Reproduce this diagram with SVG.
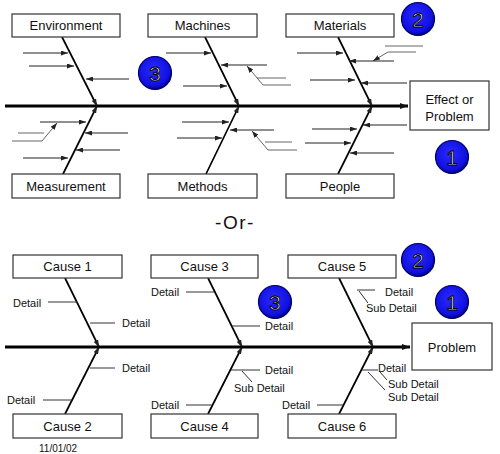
<svg xmlns="http://www.w3.org/2000/svg" width="500" height="454" viewBox="0 0 500 454">
<defs>
<marker id="ah" markerUnits="userSpaceOnUse" markerWidth="8" markerHeight="6" refX="8" refY="3" orient="auto"><path d="M0,0 L8,3 L0,6 z" fill="#111"/></marker>
<marker id="ahs" markerUnits="userSpaceOnUse" markerWidth="7" markerHeight="5" refX="7" refY="2.5" orient="auto"><path d="M0,0 L7,2.5 L0,5 z" fill="#222"/></marker>
<radialGradient id="bg" cx="45%" cy="40%" r="60%"><stop offset="0" stop-color="#2a2aff"/><stop offset="0.8" stop-color="#1010e0"/><stop offset="1" stop-color="#000090"/></radialGradient>
</defs>
<style>
.box{fill:#fff;stroke:#333;stroke-width:1.2}
.lbl{font-family:"Liberation Sans",Arial,sans-serif;font-size:13px;fill:#111;text-anchor:middle}
.det{font-family:"Liberation Sans",Arial,sans-serif;font-size:11px;fill:#111}
.spine{stroke:#000;stroke-width:3;fill:none}
.bone{stroke:#000;stroke-width:1.7;fill:none}
.sa{stroke:#222;stroke-width:1.1;fill:none}
.sl{stroke:#666;stroke-width:1;fill:none}
.dl{stroke:#333;stroke-width:1;fill:none}
.circ{fill:url(#bg);stroke:#000060;stroke-width:1.2}
.num{font-family:"Liberation Sans",Arial,sans-serif;font-size:21px;fill:#e8e8ff;stroke:#000;stroke-width:0.9;text-anchor:middle}
</style>
<rect width="500" height="454" fill="#fff"/>

<g id="connectors">
<!-- top diagram -->
<line class="spine" x1="5" y1="106" x2="408" y2="106" marker-end="url(#ah)"/>
<line class="bone" x1="62" y1="37" x2="97" y2="106" marker-end="url(#ahs)"/>
<line class="bone" x1="205" y1="37" x2="239" y2="106" marker-end="url(#ahs)"/>
<line class="bone" x1="338" y1="37" x2="372" y2="106" marker-end="url(#ahs)"/>
<line class="bone" x1="63" y1="174" x2="97" y2="106" marker-end="url(#ahs)"/>
<line class="bone" x1="206" y1="174" x2="239" y2="106" marker-end="url(#ahs)"/>
<line class="bone" x1="338" y1="174" x2="372" y2="106" marker-end="url(#ahs)"/>
<!-- environment -->
<line class="sa" x1="23" y1="53" x2="68" y2="53" marker-end="url(#ahs)"/>
<line class="sa" x1="29" y1="66" x2="74" y2="66" marker-end="url(#ahs)"/>
<line class="sa" x1="129" y1="79" x2="86" y2="79" marker-end="url(#ahs)"/>
<!-- machines -->
<line class="sa" x1="166" y1="53" x2="211" y2="53" marker-end="url(#ahs)"/>
<line class="sa" x1="267" y1="65" x2="221" y2="65" marker-end="url(#ahs)"/>
<line class="sl" x1="263" y1="85" x2="247" y2="66" marker-end="url(#ahs)"/>
<line class="sl" x1="257" y1="78" x2="286" y2="78"/>
<line class="sl" x1="263" y1="85" x2="291" y2="85"/>
<line class="sa" x1="183" y1="86" x2="227" y2="86" marker-end="url(#ahs)"/>
<!-- materials -->
<line class="sa" x1="297" y1="53" x2="343" y2="53" marker-end="url(#ahs)"/>
<line class="sa" x1="394" y1="61" x2="349" y2="61" marker-end="url(#ahs)"/>
<line class="sl" x1="388" y1="52" x2="373" y2="61" marker-end="url(#ahs)"/>
<line class="sl" x1="385" y1="46" x2="423" y2="46"/>
<line class="sl" x1="388" y1="52" x2="416" y2="52"/>
<line class="sa" x1="310" y1="80" x2="355" y2="80" marker-end="url(#ahs)"/>
<line class="sa" x1="407" y1="83" x2="361" y2="83" marker-end="url(#ahs)"/>
<!-- measurement -->
<line class="sa" x1="40" y1="122" x2="86" y2="122" marker-end="url(#ahs)"/>
<line class="sl" x1="42" y1="141" x2="57" y2="123" marker-end="url(#ahs)"/>
<line class="sl" x1="18" y1="133" x2="44" y2="133"/>
<line class="sl" x1="12" y1="141" x2="42" y2="141"/>
<line class="sa" x1="128" y1="133" x2="85" y2="133" marker-end="url(#ahs)"/>
<line class="sa" x1="120" y1="150" x2="76" y2="150" marker-end="url(#ahs)"/>
<line class="sa" x1="23" y1="158" x2="68" y2="158" marker-end="url(#ahs)"/>
<!-- methods -->
<line class="sa" x1="182" y1="122" x2="229" y2="122" marker-end="url(#ahs)"/>
<line class="sa" x1="177" y1="138" x2="222" y2="138" marker-end="url(#ahs)"/>
<line class="sa" x1="274" y1="130" x2="230" y2="130" marker-end="url(#ahs)"/>
<line class="sl" x1="268" y1="150" x2="252" y2="131" marker-end="url(#ahs)"/>
<line class="sl" x1="265" y1="142" x2="292" y2="142"/>
<line class="sl" x1="268" y1="150" x2="297" y2="150"/>
<!-- people -->
<line class="sa" x1="407" y1="125" x2="363" y2="125" marker-end="url(#ahs)"/>
<line class="sa" x1="312" y1="129" x2="357" y2="129" marker-end="url(#ahs)"/>
<line class="sa" x1="305" y1="143" x2="351" y2="143" marker-end="url(#ahs)"/>
<line class="sa" x1="394" y1="153" x2="350" y2="153" marker-end="url(#ahs)"/>

<!-- bottom diagram -->
<line class="spine" x1="5" y1="347" x2="410" y2="347" marker-end="url(#ah)"/>
<line class="bone" x1="65" y1="278" x2="99" y2="347" marker-end="url(#ahs)"/>
<line class="bone" x1="208" y1="278" x2="242" y2="347" marker-end="url(#ahs)"/>
<line class="bone" x1="339" y1="278" x2="373" y2="347" marker-end="url(#ahs)"/>
<line class="bone" x1="65" y1="414" x2="99" y2="347" marker-end="url(#ahs)"/>
<line class="bone" x1="208" y1="414" x2="242" y2="347" marker-end="url(#ahs)"/>
<line class="bone" x1="339" y1="414" x2="373" y2="347" marker-end="url(#ahs)"/>
<line class="dl" x1="48" y1="302" x2="77" y2="302"/>
<line class="dl" x1="90" y1="323" x2="115" y2="323"/>
<line class="dl" x1="186" y1="292" x2="214" y2="292"/>
<line class="dl" x1="232" y1="326" x2="260" y2="326"/>
<line class="dl" x1="357" y1="290" x2="375" y2="290"/>
<line class="dl" x1="359" y1="291" x2="368" y2="303"/>
<line class="dl" x1="90" y1="368" x2="115" y2="368"/>
<line class="dl" x1="43" y1="400" x2="72" y2="400"/>
<line class="dl" x1="186" y1="405" x2="212" y2="405"/>
<line class="dl" x1="231" y1="370" x2="260" y2="370"/>
<line class="dl" x1="242" y1="371" x2="252" y2="382"/>
<line class="dl" x1="317" y1="405" x2="343" y2="405"/>
<line class="dl" x1="362" y1="370" x2="378" y2="370"/>
<line class="dl" x1="380" y1="372" x2="387" y2="380"/>
<line class="dl" x1="368" y1="372" x2="385" y2="390"/>
</g>

<g id="environment"><rect class="box" x="12" y="14" width="108" height="23"/><text class="lbl" x="66" y="30">Environment</text></g>
<g id="machines"><rect class="box" x="148" y="14" width="109" height="23"/><text class="lbl" x="202.5" y="30">Machines</text></g>
<g id="materials"><rect class="box" x="286" y="14" width="108" height="23"/><text class="lbl" x="340" y="30">Materials</text></g>
<g id="measurement"><rect class="box" x="12" y="174" width="108" height="24"/><text class="lbl" x="66" y="191">Measurement</text></g>
<g id="methods"><rect class="box" x="148" y="174" width="109" height="24"/><text class="lbl" x="202.5" y="191">Methods</text></g>
<g id="people"><rect class="box" x="286" y="174" width="108" height="24"/><text class="lbl" x="340" y="191">People</text></g>
<g id="effect"><rect class="box" x="410" y="81" width="79" height="49"/><text class="lbl" x="449.5" y="104">Effect or</text><text class="lbl" x="449.5" y="121">Problem</text></g>

<g id="badge-top-2"><circle class="circ" cx="418" cy="19" r="16.5"/><text class="num" x="418" y="26.5">2</text></g>
<g id="badge-top-3"><circle class="circ" cx="155" cy="73" r="16.5"/><text class="num" x="155" y="80.5">3</text></g>
<g id="badge-top-1"><circle class="circ" cx="452" cy="157" r="16.5"/><text class="num" x="452" y="164.5">1</text></g>

<text id="or" x="235" y="229" font-family="'Liberation Sans',Arial,sans-serif" font-size="19" letter-spacing="1.5" text-anchor="middle" fill="#111">-Or-</text>

<g id="cause1"><rect class="box" x="13" y="255" width="109" height="23"/><text class="lbl" x="67.5" y="271">Cause 1</text></g>
<g id="cause3"><rect class="box" x="151" y="255" width="107" height="23"/><text class="lbl" x="204.5" y="271">Cause 3</text></g>
<g id="cause5"><rect class="box" x="288" y="255" width="108" height="23"/><text class="lbl" x="342" y="271">Cause 5</text></g>
<g id="cause2"><rect class="box" x="13" y="414" width="109" height="24"/><text class="lbl" x="67.5" y="431">Cause 2</text></g>
<g id="cause4"><rect class="box" x="151" y="414" width="107" height="24"/><text class="lbl" x="204.5" y="431">Cause 4</text></g>
<g id="cause6"><rect class="box" x="288" y="414" width="108" height="24"/><text class="lbl" x="342" y="431">Cause 6</text></g>
<g id="problem"><rect class="box" x="412" y="323" width="80" height="47"/><text class="lbl" x="452" y="352">Problem</text></g>

<g id="badge-bot-2"><circle class="circ" cx="418" cy="260" r="16.5"/><text class="num" x="418" y="267.5">2</text></g>
<g id="badge-bot-3"><circle class="circ" cx="275" cy="302" r="16.5"/><text class="num" x="275" y="309.5">3</text></g>
<g id="badge-bot-1"><circle class="circ" cx="452" cy="302" r="16.5"/><text class="num" x="452" y="309.5">1</text></g>

<g id="details">
<text class="det" x="13" y="307">Detail</text>
<text class="det" x="122" y="327">Detail</text>
<text class="det" x="151" y="296">Detail</text>
<text class="det" x="265" y="330">Detail</text>
<text class="det" x="385" y="296">Detail</text>
<text class="det" x="366" y="312">Sub Detail</text>
<text class="det" x="122" y="372">Detail</text>
<text class="det" x="7" y="404">Detail</text>
<text class="det" x="151" y="409">Detail</text>
<text class="det" x="265" y="374">Detail</text>
<text class="det" x="234" y="392">Sub Detail</text>
<text class="det" x="282" y="409">Detail</text>
<text class="det" x="378" y="372">Detail</text>
<text class="det" x="388" y="388">Sub Detail</text>
<text class="det" x="388" y="401">Sub Detail</text>
</g>
<text id="date" x="39" y="452" font-family="'Liberation Sans',Arial,sans-serif" font-size="10" fill="#111">11/01/02</text>
</svg>
